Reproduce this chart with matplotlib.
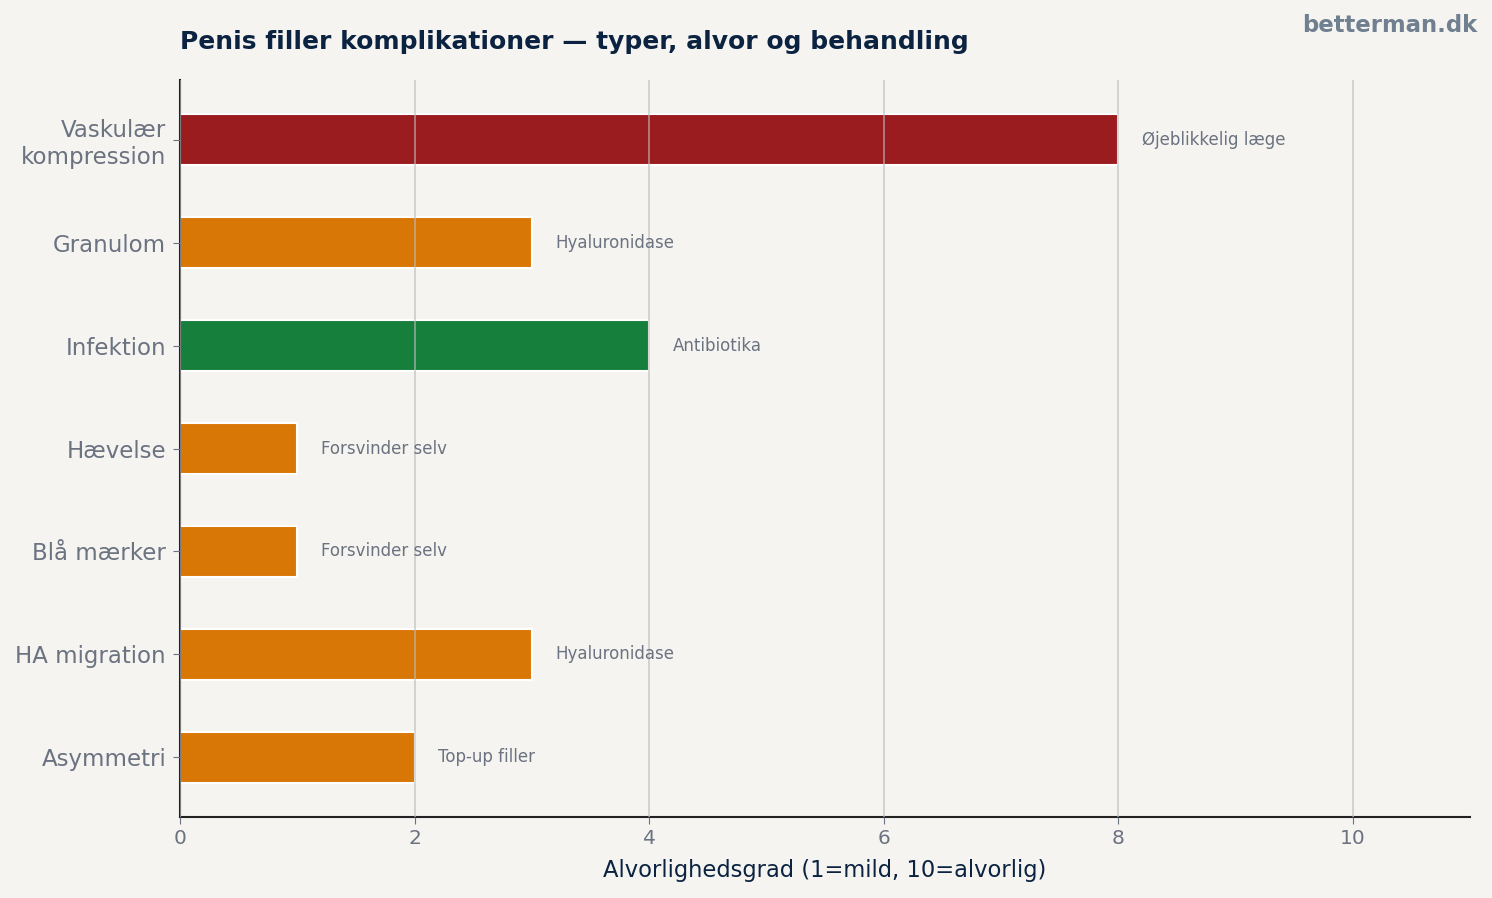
import matplotlib.pyplot as plt

categories = ["Vaskulær\nkompression", "Granulom", "Infektion", "Hævelse",
              "Blå mærker", "HA migration", "Asymmetri"]
severity = [8, 3, 4, 1, 1, 3, 2]
treatment = ["Øjeblikkelig læge", "Hyaluronidase", "Antibiotika", "Forsvinder selv",
             "Forsvinder selv", "Hyaluronidase", "Top-up filler"]
colors = ["#9B1C1F", "#D97706", "#177F3C", "#D97706", "#D97706", "#D97706", "#D97706"]

bg = "#F5F4F1"
fig = plt.figure(figsize=(14.92, 8.98), dpi=100, facecolor=bg)
ax = fig.add_axes([180/1492, 1 - 817/898, 1290/1492, (817-80)/898])
ax.set_facecolor(bg)

ypos = list(range(len(categories)))[::-1]
ax.barh(ypos, severity, height=0.5, color=colors, edgecolor="white", linewidth=1.5, zorder=2)
for y, v, t in zip(ypos, severity, treatment):
    ax.text(v + 0.2, y, t, va="center", ha="left", fontsize=12, color="#6B7280")

ax.set_yticks(ypos)
ax.set_yticklabels(categories, fontsize=16.5, color="#6B7280", linespacing=1.2)
ax.set_xlim(0, 11)
ax.set_ylim(-0.58, 6.58)
ax.set_xticks([0, 2, 4, 6, 8, 10])
ax.tick_params(axis="x", labelsize=14.5, labelcolor="#6B7280", color="#6B7280", length=5)
ax.tick_params(axis="y", color="#6B7280", length=5, pad=5)
ax.grid(axis="x", color="#BBBBBB", alpha=0.7, linewidth=1.2, zorder=3)
ax.set_axisbelow(False)
for s in ["top", "right"]:
    ax.spines[s].set_visible(False)
ax.spines["left"].set_color("#222222")
ax.spines["bottom"].set_color("#222222")
ax.spines["left"].set_linewidth(1.5)
ax.spines["bottom"].set_linewidth(1.5)
ax.set_xlabel("Alvorlighedsgrad (1=mild, 10=alvorlig)", fontsize=16.3, color="#0B2340", labelpad=8)

fig.text(180/1492, 1 - 42/898, "Penis filler komplikationer — typer, alvor og behandling",
         fontsize=18, fontweight="bold", color="#0B2340", ha="left", va="center")
fig.text(1477/1492, 1 - 25/898, "betterman.dk", fontsize=16.4, fontweight="bold",
         color="#708090", ha="right", va="center")

fig.savefig("out.png", dpi=100, facecolor=bg)
